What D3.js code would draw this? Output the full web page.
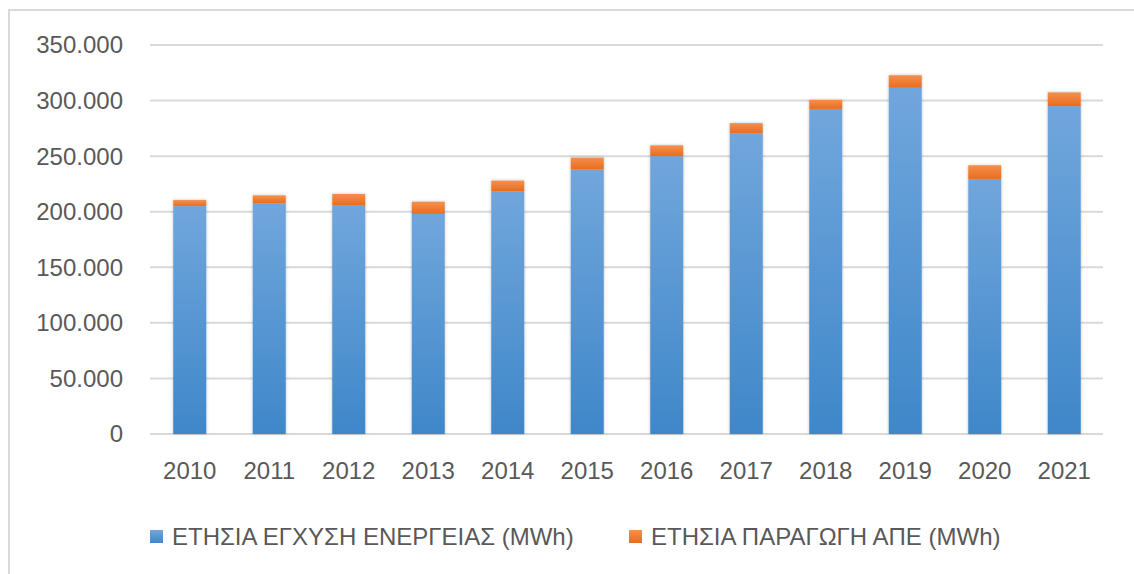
<!DOCTYPE html>
<html>
<head>
<meta charset="utf-8">
<script src="https://cdn.jsdelivr.net/npm/d3@7"></script>
<style>
  body { margin: 0; background: #fff; }
  text { font-family: "Liberation Sans", Arial, sans-serif; fill: #595959; }
</style>
</head>
<body>
<div id="chart"></div>
<script>
var years = ["2010", "2011", "2012", "2013", "2014", "2015", "2016", "2017", "2018", "2019", "2020", "2021"];
var injection = [205000, 207500, 206000, 198000, 218500, 238000, 250000, 270500, 292500, 311500, 229500, 295000];
var resProduction = [5500, 7200, 10000, 11000, 9500, 10700, 9700, 9200, 8100, 11300, 12300, 12400];
var yTicks = [0, 50000, 100000, 150000, 200000, 250000, 300000, 350000];
var seriesNames = ["ΕΤΗΣΙΑ ΕΓΧΥΣΗ ΕΝΕΡΓΕΙΑΣ (MWh)", "ΕΤΗΣΙΑ ΠΑΡΑΓΩΓΗ ΑΠΕ (MWh)"];

var width = 1134, height = 574;
var svg = d3.select("#chart").append("svg")
  .attr("width", width)
  .attr("height", height);

var defs = svg.append("defs");
var gBlue = defs.append("linearGradient").attr("id", "gBlue")
  .attr("x1", 0).attr("y1", 0).attr("x2", 0).attr("y2", 1);
gBlue.append("stop").attr("offset", "0%").attr("stop-color", "#71a6dc");
gBlue.append("stop").attr("offset", "100%").attr("stop-color", "#3f87c9");
var gOrange = defs.append("linearGradient").attr("id", "gOrange")
  .attr("x1", 0).attr("y1", 0).attr("x2", 0).attr("y2", 1);
gOrange.append("stop").attr("offset", "0%").attr("stop-color", "#f4904f");
gOrange.append("stop").attr("offset", "100%").attr("stop-color", "#ea6c1c");
var shadow = defs.append("filter").attr("id", "shadow")
  .attr("x", "-20%").attr("y", "-20%").attr("width", "140%").attr("height", "140%");
shadow.append("feDropShadow").attr("dx", 0).attr("dy", 0).attr("stdDeviation", 1.5)
  .attr("flood-color", "#000").attr("flood-opacity", 0.25);

// outer frame
svg.append("rect")
  .attr("x", 9).attr("y", 10)
  .attr("width", width + 20).attr("height", height + 20)
  .attr("fill", "none").attr("stroke", "#d9d9d9").attr("stroke-width", 2);

var x = d3.scaleBand().domain(years).range([150, 1104])
  .paddingInner(0.585).paddingOuter(0.2925);
var y = d3.scaleLinear().domain([0, 350000]).range([434, 45]);

var fmt = function(v) { return v === 0 ? "0" : d3.format(",")(v).replace(/,/g, "."); };

// gridlines
svg.append("g").selectAll("line").data(yTicks).enter().append("line")
  .attr("x1", 150).attr("x2", 1103)
  .attr("y1", function(d) { return y(d); })
  .attr("y2", function(d) { return y(d); })
  .attr("stroke", "#d9d9d9").attr("stroke-width", 2);

// y labels
svg.append("g").selectAll("text").data(yTicks).enter().append("text")
  .attr("x", 123)
  .attr("y", function(d) { return y(d); })
  .attr("dy", "0.35em")
  .attr("text-anchor", "end")
  .style("font-size", "24px")
  .text(fmt);

// bars
var bars = svg.append("g").attr("filter", "url(#shadow)");
bars.selectAll("rect.inj").data(years).enter().append("rect")
  .attr("class", "inj")
  .attr("x", function(d) { return x(d); })
  .attr("width", x.bandwidth())
  .attr("y", function(d, i) { return y(injection[i]); })
  .attr("height", function(d, i) { return y(0) - y(injection[i]); })
  .attr("fill", "url(#gBlue)");
bars.selectAll("rect.res").data(years).enter().append("rect")
  .attr("class", "res")
  .attr("x", function(d) { return x(d); })
  .attr("width", x.bandwidth())
  .attr("y", function(d, i) { return y(injection[i] + resProduction[i]); })
  .attr("height", function(d, i) { return y(injection[i]) - y(injection[i] + resProduction[i]); })
  .attr("fill", "url(#gOrange)");

// x labels
svg.append("g").selectAll("text").data(years).enter().append("text")
  .attr("x", function(d) { return x(d) + x.bandwidth() / 2; })
  .attr("y", 471)
  .attr("dy", "0.35em")
  .attr("text-anchor", "middle")
  .style("font-size", "24px")
  .text(function(d) { return d; });

// legend
var legendX = [150, 629];
var legendFill = ["url(#gBlue)", "url(#gOrange)"];
var legend = svg.append("g").selectAll("g").data(seriesNames).enter().append("g")
  .attr("transform", function(d, i) { return "translate(" + legendX[i] + ",537)"; });
legend.append("rect")
  .attr("x", 0).attr("y", -7)
  .attr("width", 13).attr("height", 13)
  .attr("fill", function(d, i) { return legendFill[i]; });
legend.append("text")
  .attr("x", 22).attr("y", 0)
  .attr("dy", "0.35em")
  .style("font-size", "24px")
  .text(function(d) { return d; });
</script>
</body>
</html>
